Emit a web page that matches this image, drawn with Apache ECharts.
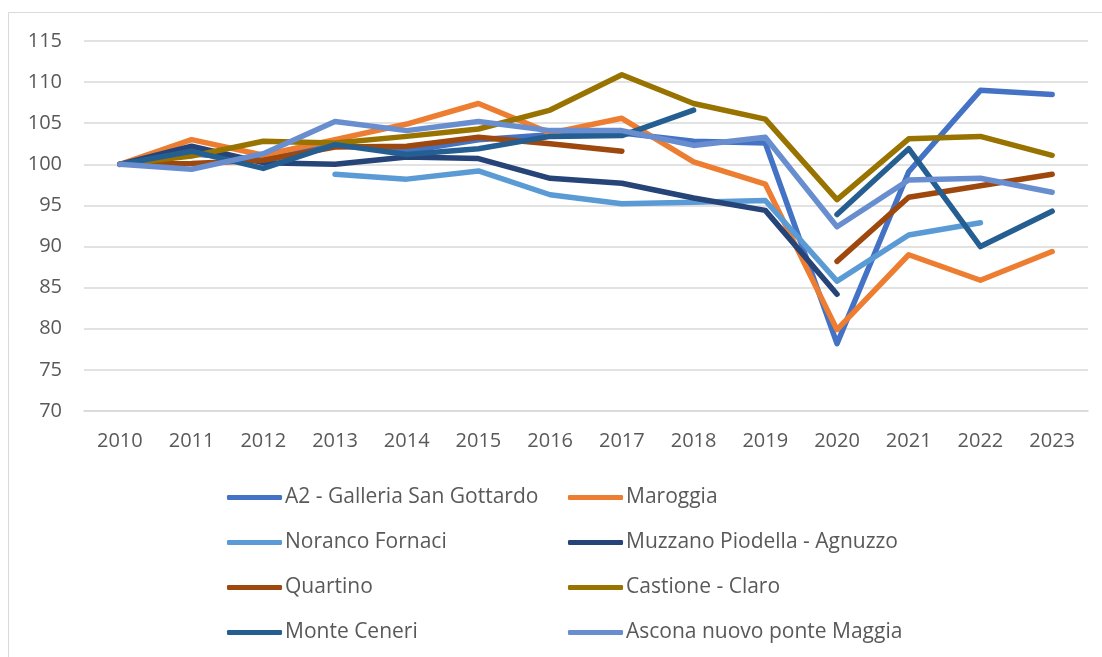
<!DOCTYPE html>
<html>
<head>
<meta charset="utf-8">
<script src="https://cdn.jsdelivr.net/npm/echarts@6/dist/echarts.min.js"></script>
<style>
  html, body { margin: 0; padding: 0; background: #fff; }
  #chart { width: 1102px; height: 657px; }
</style>
</head>
<body>
<div id="chart"></div>
<script>
// anni sull'asse x
var years = ['2010', '2011', '2012', '2013', '2014', '2015', '2016', '2017', '2018', '2019', '2020', '2021', '2022', '2023']

// indice (2010 = 100), null = dato mancante
var galleriaSanGottardo = [100, 101.3, 100.5, 102.4, 101.6, 103.0, 103.6, 103.8, 102.8, 102.6, 78.2, 99.1, 109.0, 108.5]
var maroggia = [100, 103.0, 101.1, 103.0, 104.9, 107.4, 103.8, 105.6, 100.3, 97.6, 79.9, 89.0, 85.9, 89.4]
var norancoFornaci = [null, null, null, 98.8, 98.2, 99.2, 96.3, 95.2, 95.4, 95.6, 85.8, 91.4, 92.9, null]
var muzzano = [100, 102.2, 100.2, 100.0, 100.9, 100.7, 98.3, 97.7, 95.9, 94.4, 84.2, null, null, null]
var quartino = [100, 100.1, 100.5, 102.1, 102.2, 103.3, 102.5, 101.6, null, null, 88.2, 96.0, 97.4, 98.8]
var castioneClaro = [100, 101.0, 102.8, 102.6, 103.4, 104.3, 106.6, 110.9, 107.4, 105.5, 95.7, 103.1, 103.4, 101.1]
var monteCeneri = [100, 101.6, 99.5, 102.4, 101.2, 101.9, 103.4, 103.5, 106.6, null, 93.9, 101.9, 90.0, 94.3]
var asconaPonteMaggia = [100, 99.4, 101.3, 105.2, 104.1, 105.2, 104.1, 104.1, 102.3, 103.3, 92.4, 98.1, 98.3, 96.6]

var seriesNames = [
  'A2 - Galleria San Gottardo', 'Maroggia', 'Noranco Fornaci', 'Muzzano Piodella - Agnuzzo',
  'Quartino', 'Castione - Claro', 'Monte Ceneri', 'Ascona nuovo ponte Maggia'
]
var seriesData = [galleriaSanGottardo, maroggia, norancoFornaci, muzzano, quartino, castioneClaro, monteCeneri, asconaPonteMaggia]
var colors = ['#4472C4', '#ED7D31', '#5B9BD5', '#264478', '#9E480E', '#997300', '#255E91', '#698ED0']

var font = '"Open Sans", sans-serif'
var textColor = '#595959'

var chart = echarts.init(document.getElementById('chart'))

var legendCommon = {
  orient: 'vertical',
  top: 487,
  padding: 0,
  itemWidth: 55,
  itemHeight: 5,
  itemGap: 24,
  icon: 'roundRect',
  textStyle: { color: textColor, fontFamily: font, fontSize: 21, lineHeight: 21, padding: [0, 0, 0, -2] }
}

chart.setOption({
  backgroundColor: '#fff',
  color: colors,
  animation: false,
  graphic: [{
    type: 'rect',
    shape: { x: 8.5, y: 12.5, width: 1200, height: 800 },
    style: { fill: 'none', stroke: '#D9D9D9', lineWidth: 1 },
    silent: true
  }],
  grid: {
    left: 84,
    right: 14,
    top: 41,
    bottom: 246
  },
  legend: [
    Object.assign({ left: 227, data: [seriesNames[0], seriesNames[2], seriesNames[4], seriesNames[6]] }, legendCommon),
    Object.assign({ left: 568, data: [seriesNames[1], seriesNames[3], seriesNames[5], seriesNames[7]] }, legendCommon)
  ],
  xAxis: {
    type: 'category',
    data: years,
    boundaryGap: true,
    axisLine: { lineStyle: { color: '#D9D9D9', width: 1.5 } },
    axisTick: { show: false },
    axisLabel: { color: textColor, fontFamily: font, fontSize: 20, margin: 20 }
  },
  yAxis: {
    type: 'value',
    min: 70,
    max: 115,
    interval: 5,
    axisLine: { show: false },
    axisTick: { show: false },
    axisLabel: { color: textColor, fontFamily: font, fontSize: 20, margin: 22 },
    splitLine: { lineStyle: { color: '#D9D9D9', width: 1.5 } }
  },
  series: seriesNames.map(function (name, i) {
    return {
      name: name,
      type: 'line',
      data: seriesData[i],
      connectNulls: false,
      symbol: 'none',
      lineStyle: { color: colors[i], width: 5.5, cap: 'round', join: 'round' },
      itemStyle: { color: colors[i] }
    }
  })
})
</script>
</body>
</html>
